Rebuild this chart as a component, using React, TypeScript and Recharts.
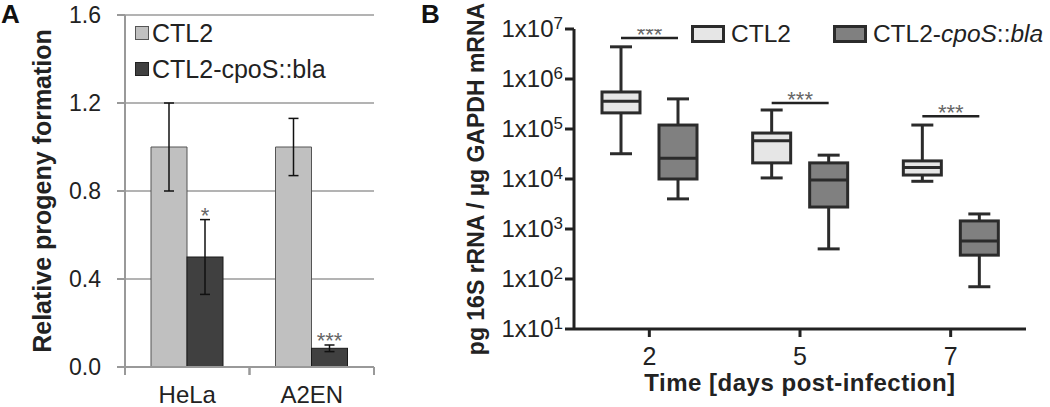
import React from "react";
import {
  BarChart,
  Bar,
  XAxis,
  YAxis,
  CartesianGrid,
  ErrorBar,
  Legend,
  ComposedChart,
  Label,
} from "recharts";

const FONT = '"Liberation Sans", Arial, Helvetica, sans-serif';

// ---------- Panel A data ----------
const cellLinesA = ["HeLa", "A2EN"];
const ctl2MeanA = [1.0, 1.0];
const ctl2ErrA = [0.2, 0.13];
const cposMeanA = [0.5, 0.085];
const cposErrA = [0.17, 0.015];
const sigA = ["*", "***"];
const yTicksA = [0, 0.4, 0.8, 1.2, 1.6];

// ---------- Panel B data ----------
const daysB = ["2", "5", "7"];
const ctl2MinB = [3.2e4, 1.05e4, 9e3];
const ctl2Q1B = [2.1e5, 2.1e4, 1.2e4];
const ctl2MedB = [3.6e5, 5.8e4, 1.7e4];
const ctl2Q3B = [5.5e5, 8.3e4, 2.3e4];
const ctl2MaxB = [4.4e6, 2.4e5, 1.2e5];
const cposMinB = [4e3, 400, 70];
const cposQ1B = [1e4, 2.75e3, 300];
const cposMedB = [2.6e4, 9.5e3, 575];
const cposQ3B = [1.2e5, 2.1e4, 1.45e3];
const cposMaxB = [4e5, 3e4, 2e3];
const sigLevelB = [6.6e6, 3.3e5, 1.8e5];
const sigTextB = ["***", "***", "***"];
const yTicksB = [1e1, 1e2, 1e3, 1e4, 1e5, 1e6, 1e7];

const dataA = cellLinesA.map((cell, i) => ({
  cell,
  ctl2: ctl2MeanA[i],
  ctl2Err: ctl2ErrA[i],
  cpos: cposMeanA[i],
  cposErr: cposErrA[i],
  sig: sigA[i],
}));

const dataB = daysB.map((day, i) => ({
  day,
  cMin: ctl2MinB[i],
  cQ1: ctl2Q1B[i],
  cMed: ctl2MedB[i],
  cQ3: ctl2Q3B[i],
  cMax: ctl2MaxB[i],
  mMin: cposMinB[i],
  mQ1: cposQ1B[i],
  mMed: cposMedB[i],
  mQ3: cposQ3B[i],
  mMax: cposMaxB[i],
  sig: sigLevelB[i],
  sigText: sigTextB[i],
}));

const BAR_B = 38;
const GAP_B = 19;

// ---------- Panel A pieces ----------
const CposBarA = (p: any) => {
  const { x, y, width, height, payload } = p;
  const errTop = y - (height * payload.cposErr) / payload.cpos;
  return (
    <g>
      <rect x={x} y={y} width={width} height={height} fill="#404040" stroke="#1a1a1a" strokeWidth={1} />
      <text x={x + width / 2} y={errTop + 3} textAnchor="middle" fontSize={22} fill="#666">
        {payload.sig}
      </text>
    </g>
  );
};

const TickA = (p: any) => {
  const { x, y, payload } = p;
  const half = payload && payload.offset ? payload.offset : 62.5;
  const axisY = y - 8 - 11;
  return (
    <g>
      <line x1={x - half} x2={x - half} y1={axisY} y2={axisY + 8} stroke="#999" strokeWidth={2} />
      <line x1={x + half} x2={x + half} y1={axisY} y2={axisY + 8} stroke="#999" strokeWidth={2} />
      <text x={x} y={y} dy="0.71em" textAnchor="middle" fontSize={24} fill="#222">
        {payload.value}
      </text>
    </g>
  );
};

const LegendA = () => (
  <div style={{ fontSize: 25, color: "#222", lineHeight: "36px", whiteSpace: "nowrap" }}>
    <div style={{ display: "flex", alignItems: "center" }}>
      <span style={{ display: "inline-block", width: 12, height: 12, border: "1px solid #555", background: "#c0c0c0" }} />
      <span style={{ marginLeft: 3 }}>CTL2</span>
    </div>
    <div style={{ display: "flex", alignItems: "center" }}>
      <span style={{ display: "inline-block", width: 12, height: 12, border: "1px solid #222", background: "#404040" }} />
      <span style={{ marginLeft: 3 }}>CTL2-cpoS::bla</span>
    </div>
  </div>
);

// ---------- Panel B pieces ----------
const makePy = (y: number, h: number, vmin: number, vmax: number) => (v: number) =>
  y + (h * (Math.log10(vmax) - Math.log10(v))) / (Math.log10(vmax) - Math.log10(vmin));

const drawBox = (
  x: number,
  width: number,
  py: (v: number) => number,
  mn: number,
  q1: number,
  med: number,
  q3: number,
  mx: number,
  fill: string
) => {
  const cx = x + width / 2;
  const stroke = "#2b2b2b";
  return (
    <g>
      <line x1={cx} x2={cx} y1={py(mx)} y2={py(q3)} stroke={stroke} strokeWidth={3} />
      <line x1={cx} x2={cx} y1={py(q1)} y2={py(mn)} stroke={stroke} strokeWidth={3} />
      <line x1={cx - 11} x2={cx + 11} y1={py(mx)} y2={py(mx)} stroke={stroke} strokeWidth={3} />
      <line x1={cx - 11} x2={cx + 11} y1={py(mn)} y2={py(mn)} stroke={stroke} strokeWidth={3} />
      <rect x={x} y={py(q3)} width={width} height={py(q1) - py(q3)} fill={fill} stroke={stroke} strokeWidth={3} />
      <line x1={x} x2={x + width} y1={py(med)} y2={py(med)} stroke={stroke} strokeWidth={3} />
    </g>
  );
};

const Ctl2BoxB = (p: any) => {
  const { x, y, width, height, payload } = p;
  const py = makePy(y, height, payload.cMin, payload.cMax);
  const cx = x + width / 2;
  const ly = py(payload.sig);
  return (
    <g>
      {drawBox(x, width, py, payload.cMin, payload.cQ1, payload.cMed, payload.cQ3, payload.cMax, "#e6e6e6")}
      <line x1={cx} x2={cx + BAR_B + GAP_B} y1={ly} y2={ly} stroke="#222" strokeWidth={2.5} />
      <text x={cx + (BAR_B + GAP_B) / 2} y={ly + 4} textAnchor="middle" fontSize={22} fill="#666">
        {payload.sigText}
      </text>
    </g>
  );
};

const CposBoxB = (p: any) => {
  const { x, y, width, height, payload } = p;
  const py = makePy(y, height, payload.mMin, payload.mMax);
  return drawBox(x, width, py, payload.mMin, payload.mQ1, payload.mMed, payload.mQ3, payload.mMax, "#808080");
};

const LogTick = (p: any) => {
  const { x, y, payload } = p;
  const exp = Math.round(Math.log10(payload.value));
  return (
    <text x={x} y={y + 8} textAnchor="end" fontSize={24} fill="#222">
      1x10
      <tspan dy={-8} fontSize={17}>
        {exp}
      </tspan>
    </text>
  );
};

const DayTick = (p: any) => {
  const { x, y, payload } = p;
  return (
    <text x={x} y={y} dy="0.71em" textAnchor="middle" fontSize={25} fill="#222">
      {payload.value}
    </text>
  );
};

const LegendB = () => (
  <div style={{ display: "flex", alignItems: "center", fontSize: 24.5, color: "#222", whiteSpace: "nowrap", lineHeight: "28px" }}>
    <span style={{ display: "inline-block", width: 28, height: 12, border: "3px solid #2b2b2b", background: "#e6e6e6" }} />
    <span style={{ marginLeft: 6 }}>CTL2</span>
    <span style={{ display: "inline-block", width: 28, height: 12, border: "3px solid #2b2b2b", background: "#808080", marginLeft: 42 }} />
    <span style={{ marginLeft: 6 }}>
      CTL2-<i>cpoS</i>::<i>bla</i>
    </span>
  </div>
);

const rotatedLabel = (text: string, cx: number, size: number) => (props: any) => {
  const vb = props.viewBox || { y: 0, height: 0 };
  const cy = vb.y + vb.height / 2;
  return (
    <text
      x={cx}
      y={cy}
      dy="0.36em"
      textAnchor="middle"
      fontSize={size}
      fontWeight="bold"
      fill="#222"
      transform={`rotate(-90, ${cx}, ${cy})`}
    >
      {text}
    </text>
  );
};

const bottomLabel = (text: string) => (props: any) => {
  const vb = props.viewBox || { x: 0, y: 0, width: 0 };
  return (
    <text x={vb.x + vb.width / 2} y={vb.y + 62} textAnchor="middle" fontSize={24} fontWeight="bold" letterSpacing={0.5} fill="#222">
      {text}
    </text>
  );
};

export default function App() {
  return (
    <div style={{ position: "absolute", left: 0, top: 0, width: 1050, height: 407, fontFamily: FONT, background: "#fff" }}>
      <div style={{ position: "absolute", left: 0, top: 0 }}>
        <BarChart width={400} height={407} data={dataA} margin={{ top: 15, right: 26, bottom: 0, left: 0 }} barSize={36} barGap={0}>
          <CartesianGrid vertical={false} stroke="#9a9a9a" strokeWidth={1.5} />
          <XAxis dataKey="cell" height={40} axisLine={{ stroke: "#999", strokeWidth: 2 }} tickLine={false} tickSize={8} tickMargin={11} tick={<TickA />} interval={0} />
          <YAxis
            domain={[0, 1.6]}
            ticks={yTicksA}
            width={125}
            axisLine={{ stroke: "#999", strokeWidth: 2 }}
            tickLine={{ stroke: "#999", strokeWidth: 2 }}
            tickSize={8}
            tickMargin={16}
            tick={{ fontSize: 23, fill: "#222" }}
            tickFormatter={(v: number) => v.toFixed(1)}
            interval={0}
          >
            <Label content={rotatedLabel("Relative progeny formation", 42, 25)} />
          </YAxis>
          <Legend layout="vertical" align="center" verticalAlign="middle" content={() => <LegendA />} wrapperStyle={{ left: 135, top: 15, width: "auto" }} />
          <Bar dataKey="ctl2" fill="#c0c0c0" stroke="#555" strokeWidth={1} isAnimationActive={false}>
            <ErrorBar dataKey="ctl2Err" width={5} stroke="#111" strokeWidth={1.5} />
          </Bar>
          <Bar dataKey="cpos" fill="#404040" shape={<CposBarA />} isAnimationActive={false}>
            <ErrorBar dataKey="cposErr" width={5} stroke="#111" strokeWidth={1.5} />
          </Bar>
        </BarChart>
      </div>
      <div style={{ position: "absolute", left: 420, top: 0 }}>
        <ComposedChart width={630} height={407} data={dataB} margin={{ top: 29, right: 24, bottom: 0, left: 0 }} barSize={BAR_B} barGap={GAP_B}>
          <XAxis dataKey="day" height={78} axisLine={{ stroke: "#222", strokeWidth: 3 }} tickLine={{ stroke: "#222", strokeWidth: 3 }} tickSize={8} tickMargin={10} tick={<DayTick />} interval={0}>
            <Label content={bottomLabel("Time [days post-infection]")} />
          </XAxis>
          <YAxis
            type="number"
            scale="log"
            domain={[10, 1e7]}
            ticks={yTicksB}
            allowDataOverflow
            width={154}
            axisLine={{ stroke: "#222", strokeWidth: 3 }}
            tickLine={{ stroke: "#222", strokeWidth: 3 }}
            tickSize={9}
            tickMargin={2}
            tick={<LogTick />}
            interval={0}
          >
            <Label content={rotatedLabel("pg 16S rRNA / µg GAPDH mRNA", 56, 23)} />
          </YAxis>
          <Legend layout="vertical" align="center" verticalAlign="middle" content={() => <LegendB />} wrapperStyle={{ left: 271, top: 20, width: "auto" }} />
          <Bar dataKey={(d: any) => [d.cMin, d.cMax]} fill="#e6e6e6" shape={<Ctl2BoxB />} isAnimationActive={false} />
          <Bar dataKey={(d: any) => [d.mMin, d.mMax]} fill="#808080" shape={<CposBoxB />} isAnimationActive={false} />
        </ComposedChart>
      </div>
      <svg width={1050} height={407} style={{ position: "absolute", left: 0, top: 0, pointerEvents: "none" }}>
        <text x={1} y={23} fontSize={26} fontWeight="bold" fill="#111">A</text>
        <text x={421} y={23} fontSize={26} fontWeight="bold" fill="#111">B</text>
      </svg>
    </div>
  );
}
